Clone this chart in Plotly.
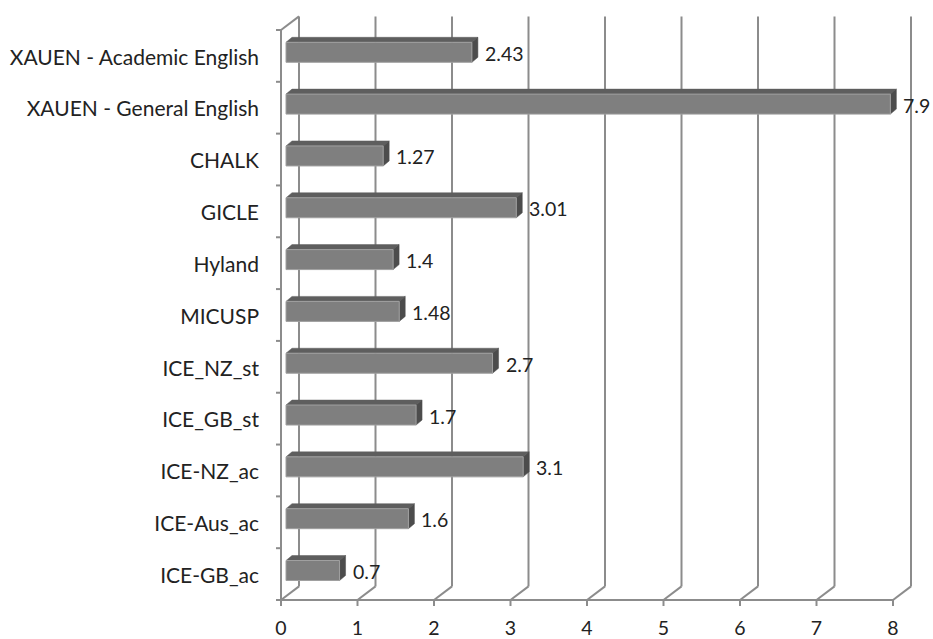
import plotly.graph_objects as go

# ---- data ----
categories = ["ICE-GB_ac", "ICE-Aus_ac", "ICE-NZ_ac", "ICE_GB_st", "ICE_NZ_st",
              "MICUSP", "Hyland", "GICLE", "CHALK",
              "XAUEN - General English", "XAUEN - Academic English"]
values = [0.7, 1.6, 3.1, 1.7, 2.7, 1.48, 1.4, 3.01, 1.27, 7.9, 2.43]
value_labels = ["0.7", "1.6", "3.1", "1.7", "2.7", "1.48", "1.4", "3.01", "1.27", "7.9", "2.43"]
x_ticks = [0, 1, 2, 3, 4, 5, 6, 7, 8]

# ---- styling / geometry ----
W, H = 933, 639
ML, MR, MT, MB = 270, 13, 8, 29
PX_X = 76.5      # pixels per x unit
PX_Y = 51.82     # pixels per category
X0_PX = 286      # pixel of x=0 on bar plane
Y0_PX = 570.5    # pixel of first category centre on bar plane
FRONT_DX, FRONT_DY = 5, 3.6     # bar plane -> front plane (px)
BACK_DX, BACK_DY = 13, 10       # bar plane -> back wall (px)
BAR_DX, BAR_DY = 6, 5           # bar depth (px)
GRID = "#8c8c8c"
FONT = "Lato"
TXT = "#222222"

ux = lambda px: px / PX_X
uy = lambda px: px / PX_Y

xr = [(ML - X0_PX) / PX_X, (W - MR - X0_PX) / PX_X]
yr = [(Y0_PX - (H - MB)) / PX_Y, (Y0_PX - MT) / PX_Y]

n = len(categories)
ypos = list(range(n))
bar_w = 0.386

shapes = []
def line(x0, y0, x1, y1, color=GRID, width=2):
    shapes.append(dict(type="line", xref="x", yref="y", x0=x0, y0=y0, x1=x1, y1=y1,
                       line=dict(color=color, width=width), layer="below"))

y_front_bot = -0.5 - uy(FRONT_DY)
y_front_top = n - 0.5 - uy(FRONT_DY)
y_back_bot = -0.5 + uy(BACK_DY)
y_back_top = n - 0.5 + uy(BACK_DY)
xf = lambda v: v - ux(FRONT_DX)
xb = lambda v: v + ux(BACK_DX)

# back wall gridlines & floor diagonals
for v in x_ticks:
    line(xb(v), y_back_bot, xb(v), y_back_top)
    line(xf(v), y_front_bot, xb(v), y_back_bot)
    line(xf(v), y_front_bot, xf(v), y_front_bot - uy(6))
# front floor line
line(xf(x_ticks[0]), y_front_bot, xf(x_ticks[-1]), y_front_bot)
# left wall
line(xf(0), y_front_bot, xf(0), y_front_top)
line(xf(0), y_front_top, xb(0), y_back_top)
for k in range(n + 1):
    yk = k - 0.5 - uy(FRONT_DY)
    line(xf(0) - ux(5), yk, xf(0), yk)

# 3D faces of bars
for yi, v in zip(ypos, values):
    yt = yi + bar_w / 2
    yb = yi - bar_w / 2
    ddx, ddy = ux(BAR_DX), uy(BAR_DY)
    top = f"M 0,{yt} L {v},{yt} L {v+ddx},{yt+ddy} L {ddx},{yt+ddy} Z"
    side = f"M {v},{yt} L {v+ddx},{yt+ddy} L {v+ddx},{yb+ddy} L {v},{yb} Z"
    shapes.append(dict(type="path", xref="x", yref="y", path=top, fillcolor="#5e5e5e",
                       line=dict(color="#5e5e5e", width=0.5), layer="below"))
    shapes.append(dict(type="path", xref="x", yref="y", path=side, fillcolor="#4c4c4c",
                       line=dict(color="#4c4c4c", width=0.5), layer="below"))

fig = go.Figure()
fig.add_trace(go.Bar(
    x=values, y=ypos, orientation="h", width=bar_w,
    marker=dict(color="#7f7f7f", line=dict(color="#a0a0a0", width=1)),
    hoverinfo="x+text", text=categories, textposition="none",
))

annotations = []
for yi, v, t in zip(ypos, values, value_labels):
    annotations.append(dict(x=v, y=yi, xref="x", yref="y", text=t, showarrow=False,
                            xanchor="left", yanchor="middle", xshift=11, yshift=-1,
                            font=dict(family=FONT, size=19.5, color=TXT)))

fig.update_layout(
    width=W, height=H, margin=dict(l=ML, r=MR, t=MT, b=MB, autoexpand=False),
    paper_bgcolor="white", plot_bgcolor="white",
    showlegend=False, shapes=shapes, annotations=annotations,
    xaxis=dict(range=xr, tickvals=x_ticks, ticktext=[str(t) for t in x_ticks],
               showgrid=False, zeroline=False, showline=False, ticks="", automargin=False,
               ticklabelshift=-FRONT_DX, ticklabelstandoff=4,
               tickfont=dict(family=FONT, size=19.5, color=TXT), fixedrange=True),
    yaxis=dict(range=yr, tickvals=ypos, ticktext=categories,
               showgrid=False, zeroline=False, showline=False, ticks="", automargin=False,
               ticklabelshift=5, ticklabelstandoff=10,
               tickfont=dict(family=FONT, size=21, color=TXT), fixedrange=True),
)

fig.write_html("out.html")
